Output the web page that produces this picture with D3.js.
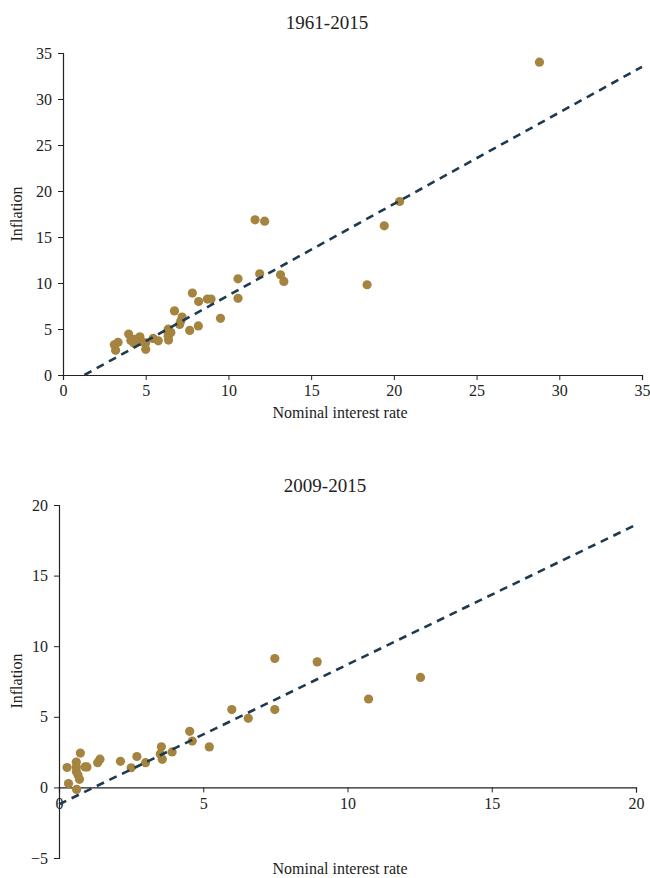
<!DOCTYPE html>
<html>
<head>
<meta charset="utf-8">
<script src="https://cdn.jsdelivr.net/npm/d3@7"></script>
<style>
  body { margin: 0; background: #fff; }
  text { font-family: "Liberation Serif", "Times New Roman", serif; fill: #222; }
</style>
</head>
<body>
<div id="chart"></div>
<script>
// DATA: 1961-2015 (nominal interest rate, inflation)
const rateLong = [28.8, 20.35, 19.42, 18.38, 11.61, 12.19, 11.89, 13.15, 13.35, 10.58,
  10.58, 9.52, 7.82, 8.2, 8.73, 8.95, 8.18, 7.66, 6.74, 7.2,
  7.12, 7.05, 6.42, 6.36, 6.36, 6.36, 6.38, 6.52, 5.45, 5.76,
  5.0, 5.0, 4.65, 4.45, 4.28, 4.35, 3.97, 3.33, 3.1, 3.18,
  4.75, 4.1];
const inflLong = [34.0, 18.86, 16.21, 9.81, 16.87, 16.72, 11.0, 10.89, 10.17, 10.45,
  8.33, 6.16, 8.9, 7.98, 8.25, 8.25, 5.33, 4.84, 6.97, 6.3,
  5.88, 5.5, 4.78, 4.98, 4.55, 4.2, 3.8, 4.62, 3.98, 3.72,
  3.5, 2.79, 4.15, 3.88, 3.47, 3.87, 4.45, 3.56, 3.28, 2.68,
  3.62, 3.75];

// DATA: 2009-2015
const rateShort = [7.48, 8.95, 12.53, 10.73, 5.99, 7.48, 6.56, 4.53, 4.62, 5.21,
  3.55, 3.51, 3.58, 3.92, 2.7, 3.0, 2.5, 2.13, 1.42, 1.34,
  0.97, 0.9, 0.74, 0.6, 0.6, 0.6, 0.66, 0.71, 0.28, 0.33,
  0.61];
const inflShort = [9.13, 8.89, 7.79, 6.26, 5.51, 5.51, 4.89, 3.97, 3.28, 2.87,
  2.88, 2.37, 1.99, 2.51, 2.19, 1.75, 1.39, 1.85, 2.0, 1.75,
  1.45, 1.45, 2.43, 1.8, 1.45, 1.12, 0.88, 0.57, 1.41, 0.27,
  -0.14];

// TREND LINES (intercept, slope)
const trendLong = [-1.29, 0.994];
const trendShort = [-1.2, 0.99];

const ticksLong = [0, 5, 10, 15, 20, 25, 30, 35];
const ticksShortX = [0, 5, 10, 15, 20];
const ticksShortY = [-5, 0, 5, 10, 15, 20];

const width = 650;
const height = 878;
const dotColor = "#a5843f";
const lineColor = "#1d3a50";

const svg = d3.select("#chart")
  .append("svg")
  .attr("width", width)
  .attr("height", height);

function drawPanel(opt) {
  const x = d3.scaleLinear().domain(opt.xDomain).range([opt.left, opt.right]);
  const y = d3.scaleLinear().domain(opt.yDomain).range([opt.bottom, opt.top]);
  const g = svg.append("g");

  // title
  g.append("text")
    .attr("x", opt.titleX)
    .attr("y", opt.titleY)
    .attr("text-anchor", "middle")
    .style("font-size", "19px")
    .text(opt.title);

  // y axis
  const yAxis = g.append("g")
    .attr("transform", "translate(" + opt.left + ",0)")
    .call(d3.axisLeft(y).tickValues(opt.yTicks).tickSize(5).tickPadding(6));

  // x axis sits at y = 0
  const xAxis = g.append("g")
    .attr("transform", "translate(0," + y(0) + ")")
    .call(d3.axisBottom(x).tickValues(opt.xTicks).tickSize(5).tickPadding(5));

  [yAxis, xAxis].forEach(function (a) {
    a.select(".domain").attr("stroke", "#222").attr("stroke-width", 1.2);
    a.selectAll(".tick line").attr("stroke", "#222");
    a.selectAll(".tick text")
      .style("font-family", "Liberation Serif, serif")
      .style("font-size", "16px")
      .attr("fill", "#222");
  });

  // axis titles
  g.append("text")
    .attr("x", opt.xLabelX)
    .attr("y", opt.xLabelY)
    .attr("text-anchor", "middle")
    .style("font-size", "16px")
    .text("Nominal interest rate");

  g.append("text")
    .attr("transform", "translate(" + opt.yLabelX + "," + opt.yLabelY + ") rotate(-90)")
    .attr("text-anchor", "middle")
    .style("font-size", "16px")
    .text("Inflation");

  // points
  const pts = opt.xs.map(function (v, i) { return [v, opt.ys[i]]; });
  g.selectAll("circle")
    .data(pts)
    .enter().append("circle")
    .attr("cx", function (d) { return x(d[0]); })
    .attr("cy", function (d) { return y(d[1]); })
    .attr("r", 4.6)
    .attr("fill", dotColor);

  // dashed trend line, clipped to the plot
  const a = opt.trend[0], b = opt.trend[1];
  let x0 = opt.xDomain[0];
  if (a + b * x0 < opt.yDomain[0]) x0 = (opt.yDomain[0] - a) / b;
  const x1 = opt.xDomain[1];
  const line = d3.line()
    .x(function (d) { return x(d); })
    .y(function (d) { return y(a + b * d); });
  g.append("path")
    .attr("d", line([x0, x1]))
    .attr("fill", "none")
    .attr("stroke", lineColor)
    .attr("stroke-width", 2.6)
    .attr("stroke-dasharray", "8,6");
}

drawPanel({
  title: "1961-2015", titleX: 327, titleY: 29,
  left: 63, right: 642, top: 53, bottom: 375,
  xDomain: [0, 35], yDomain: [0, 35],
  xTicks: ticksLong, yTicks: ticksLong,
  xs: rateLong, ys: inflLong, trend: [trendLong[0] + 0, trendLong[1]],
  xLabelX: 340, xLabelY: 418, yLabelX: 22, yLabelY: 214
});

drawPanel({
  title: "2009-2015", titleX: 325, titleY: 492,
  left: 59, right: 636, top: 505, bottom: 858,
  xDomain: [0, 20], yDomain: [-5, 20],
  xTicks: ticksShortX, yTicks: ticksShortY,
  xs: rateShort, ys: inflShort, trend: trendShort,
  xLabelX: 340, xLabelY: 874, yLabelX: 22, yLabelY: 681
});
</script>
</body>
</html>
